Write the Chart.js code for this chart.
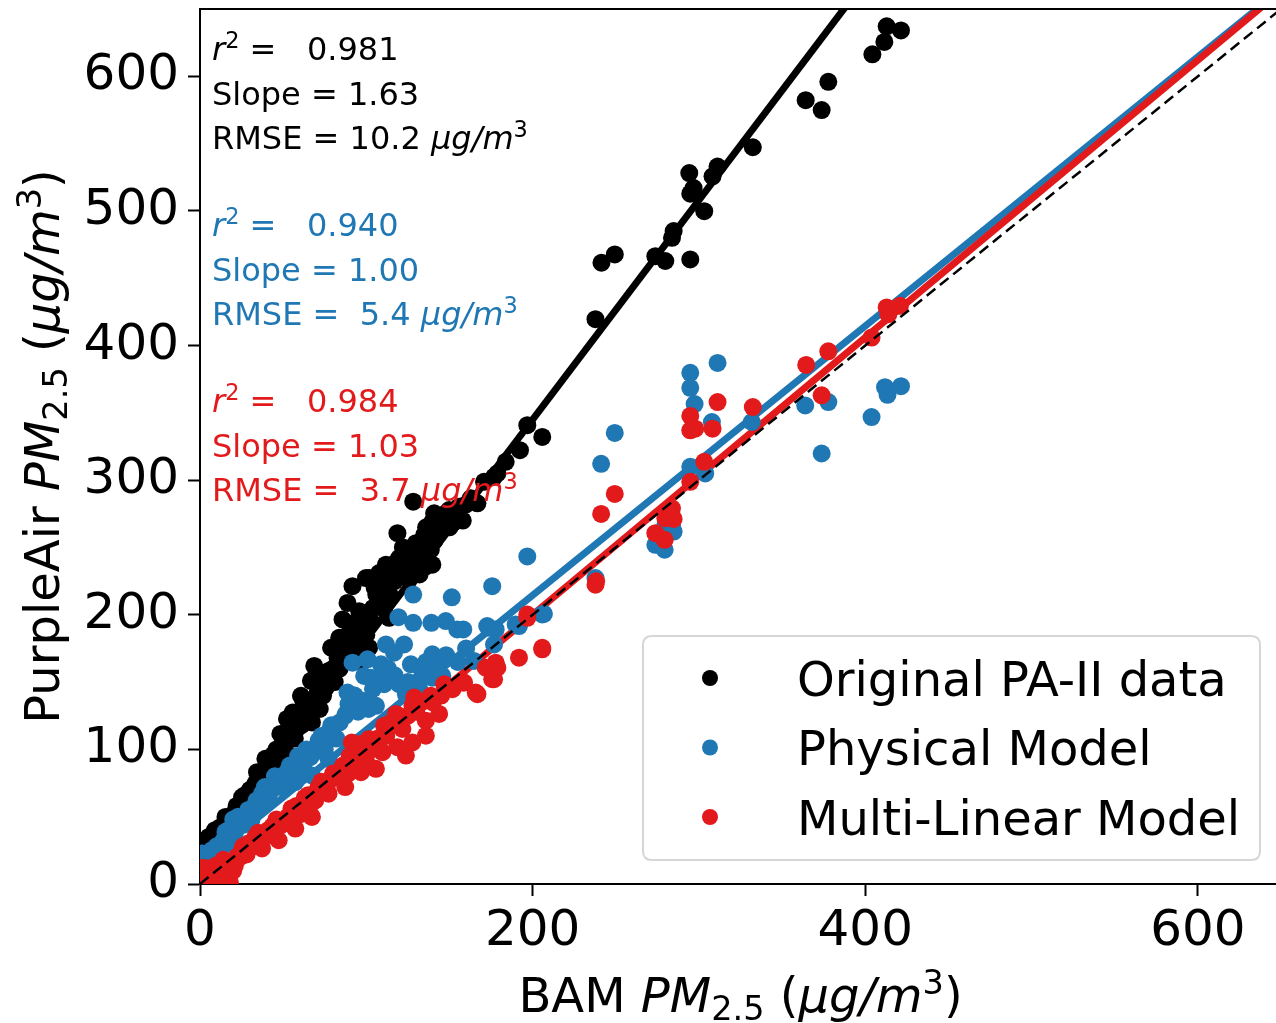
<!DOCTYPE html>
<html><head><meta charset="utf-8">
<script src="https://cdn.jsdelivr.net/npm/chart.js@4.4.1/dist/chart.umd.min.js"></script>
<style>html,body{margin:0;padding:0;overflow:hidden;background:#fff;width:1276px;height:1023px}canvas{display:block}</style>
</head><body><canvas id="c" width="1290" height="1023"></canvas>
<script>
// ---------- data ----------
const seriesNames = ['Original PA-II data', 'Physical Model', 'Multi-Linear Model'];
const xTickValues = [0, 200, 400, 600];
const yTickValues = [0, 100, 200, 300, 400, 500, 600];
const axisMin = 0, axisMax = 650;

const origX = [3.3,5.3,2,8,10,15.3,12,20,25.3,22,28,33.3,34.3,39.3,45.3,48.3,52.3,56.3,62.3,67.3,55.7,60.7,65.7,66.7,68.7,73.7,75.7,78.8,82.7,83.7,85.7,88.7,90.8,91.7,95.7,95.7,101.7,101.7,99.8,107.7,110.7,111.8,113.7,115.7,118.7,119.7,125.7,126.8,129.8,134.8,135.8,138.8,139.7,139.8,143.7,128.2,140.8,147.8,149.8,155.8,162.8,166.8,170.8,176.8,178.8,183.8,192.4,196.8,205.8,30,42,46,50,58,63,70,72,78,80,86,92,97,104,106,112,116,122,131,137,150,158,132,
  6,9,14,17,19,24,27,31,36,38,41,44,47,51,53,57,59,61,64,69,71,74,77,81,84,87,89,93,94,98,100,103,105,108,110,114,117,121,124,127,133,136,141,145,152,160,
  237.8,241.4,249.4,273.8,279.8,283.8,284.8,294.8,294.8,296.8,303.2,294.2,308.2,311.2,332.4,364.2,373.8,377.8,404.3,411.5,412.9,421.5];
const origY = [30.1,35,25,28,38,49.8,42,52,64.6,58,60,74.5,83.1,93,86.8,111.5,122.6,94.2,134.8,120,127.4,139.8,134.8,150.9,162,155.8,145.9,175.5,168.1,182.9,196.5,208.8,187.9,221.2,202.7,165.7,227.3,175.5,227.3,231,222.4,237.2,197.7,237.2,260.6,242.1,226.1,238.4,253.2,259.4,236,248.3,237.2,269.2,264.3,284,275.4,275.4,277.8,280.3,286.5,282.8,298.8,302.5,305,313.6,322.3,340.8,332.1,70,90,100,105,115,125,140,130,150,160,170,180,190,205,215,225,230,250,240,255,265,270,230,
  32,40,36,48,44,55,66,62,80,72,85,96,92,100,110,108,120,118,128,132,145,140,158,150,160,175,185,170,195,200,185,195,220,212,205,215,225,232,245,235,245,265,255,272,268,282,
  419.6,461.5,467.7,466.4,462.8,480,485,464,512.8,517,499.8,528.1,525.7,533,547.3,582.3,574.9,595.9,616.3,625.5,637.1,634.1];

const physX = [1.3,3,5,8,10,15.3,18,24.3,20,28,32.3,37.3,41.3,47.3,52.3,57.3,62.3,66.3,67.3,71.3,77.3,77.3,87.3,87.8,89.3,88.7,91.7,97.7,98.7,100.7,101.3,101.7,102.8,105.8,107.7,108.8,110.7,111.8,116.7,119.7,119.3,122.7,123.8,126.8,128.2,128.2,131.8,131.8,133.7,134.8,139.1,139.7,139.7,145.7,147.8,151.4,154.7,158.3,164.8,172.7,173.8,175.7,176.8,177.8,189.8,191.8,196.8,205.8,206.8,
  4,7,12,14,17,21,23,26,29,31,34,36,39,43,45,49,54,56,59,61,64,69,73,75,79,82,84,93,95,104,113,117,125,136,142,148,155,160,
  237.8,241.2,249.4,273.8,279.8,283.8,279.4,284.8,294.8,294.8,294.8,297.4,303.8,307.8,311.2,331.8,363.9,377.8,373.8,403.8,411.9,413.4,421.5];
const physY = [22.7,15,10,18,28,38.7,30,44.9,48,50,57.2,67.1,62.1,76.9,83.1,75.7,89.3,94.2,80.6,106.5,112.6,93,125,126.3,133.7,142.2,164.4,136.1,154.6,166.9,130,133.7,153.3,132.4,150.9,163.2,148.4,178,171.8,148.4,198.2,178,141,163.2,215,194,144.7,150.9,158.3,155.8,194,170.6,153.3,154.6,195.3,213,189.1,189.1,165.7,191.6,190.3,221.2,178,189.1,192.8,191.6,243.3,200.2,200.7,
  18,25,22,32,40,38,50,44,55,48,62,58,72,70,80,72,88,80,95,85,100,98,110,100,118,108,120,140,128,145,160,155,150,165,160,170,165,175,
  227.3,312.1,335.1,252,266.8,266.8,248.3,261.8,309.9,379.7,368.6,356.5,305,343.2,387.1,343.2,355.5,358,319.8,346.9,369.1,363.4,369.8];

const mlrX = [1.3,5.3,3,8,10,12,15,17.3,18,20,14,22,25.3,28,33.3,37.3,43.3,47.3,51.3,57.3,59.3,67.3,69.3,71.3,77.3,81.3,87.3,91.3,96.8,99.3,99.8,97.3,91.3,101.7,105.8,109.7,110.7,117.8,118.7,121.7,123.8,127.7,127.7,128.8,135.8,135.8,138.8,143.8,146.8,151.8,157.8,158.8,165.8,166.8,171.8,175.7,176.8,177.8,178.8,191.8,196.8,196.8,205.8,205.8,30,40,45,55,62,75,85,65,80,90,
  2,4,6,9,11,13,16,19,21,24,26,29,32,35,38,41,44,46,49,53,55,58,61,63,66,70,73,76,79,83,86,89,93,95,103,107,112,115,120,125,130,133,140,145,
  237.8,238.2,241.2,249.4,273.8,279.4,279.8,284.8,283.8,294.8,294.8,294.8,297.8,303.2,308.2,311.2,332.4,364.5,377.8,373.8,403.8,412.9,420.9,413.9];
const mlrY = [7.9,11.6,3,5,14,2,8,5.4,1,10,18,20,25.1,22,35,26.4,42.4,32.5,47.3,41.2,54.7,49.8,62.1,72,67.1,79.4,72,89.3,83.1,86.8,91.7,104.1,105.2,107.8,85.6,97.9,117.6,126.3,101.6,115.2,95.4,105.2,132.4,138.5,110.2,121.3,139.8,126.3,148.4,144.7,149.6,149.6,142.2,141,160.7,152.1,152.1,164.4,160.7,168.1,200.2,197.7,174.3,175.5,28,38,45,52,60,75,85,66,82,95,
  12,8,4,10,6,12,14,16,14,20,28,30,28,38,35,40,36,48,44,50,56,58,52,64,58,68,76,72,78,80,88,82,92,98,100,108,110,120,118,125,128,135,135,140,
  222.3,224.9,274.9,289.8,260.6,255.7,271.7,271.2,279.1,298.8,347.7,337,338.2,313.6,338.2,358,354.3,385.6,395.7,363,405.9,428.3,429.5,423.3];

// regression-line end points and 1:1 line
const fitOrigX = [0, 400], fitOrigY = [19, 671];
const fitPhysX = [0, 650], fitPhysY = [14.5, 664.5];
const fitMlrX  = [0, 650], fitMlrY  = [-6, 663.5];
const oneX = [0, 650], oneY = [0, 650];

// statistics text
const statR2 = ['0.981', '0.940', '0.984'];
const statSlope = ['1.63', '1.00', '1.03'];
const statRmse = ['10.2', ' 5.4', ' 3.7'];

// ---------- styling ----------
const BLACK = '#000000', BLUE = '#1f77b4', RED = '#e31a1c';
const colors = [BLACK, BLUE, RED];
const FONT = '"DejaVu Sans"';
const pts = (xs, ys) => xs.map((x, i) => ({x, y: ys[i]}));

function fontFor(s, size) {
  const small = (s.k === 'sup' || s.k === 'sub');
  const sz = small ? size * 0.7 : size;
  return (s.k === 'i' ? 'italic ' : '') + sz + 'px ' + FONT;
}
function richWidth(ctx, segs, size) {
  let w = 0;
  for (const s of segs) { ctx.font = fontFor(s, size); w += ctx.measureText(s.t).width; }
  return w;
}
function drawRich(ctx, segs, x, y, size, color, align) {
  ctx.fillStyle = color;
  ctx.textBaseline = 'alphabetic';
  ctx.textAlign = 'left';
  let cx = align === 'center' ? x - richWidth(ctx, segs, size) / 2 : x;
  for (const s of segs) {
    ctx.font = fontFor(s, size);
    const dy = s.k === 'sup' ? -0.38 * size : s.k === 'sub' ? 0.17 * size : 0;
    ctx.fillText(s.t, cx, y + dy);
    cx += ctx.measureText(s.t).width;
  }
}

const deco = {
  id: 'deco',
  afterDatasetsDraw(chart) {
    const ctx = chart.ctx;
    ctx.save();
    // statistics annotations
    const baseY = [60, 236, 412];
    for (let k = 0; k < 3; k++) {
      const c = colors[k], y0 = baseY[k];
      drawRich(ctx, [{t:'r',k:'i'},{t:'2',k:'sup'},{t:' =   ' + statR2[k],k:'n'}], 212, y0, 32, c);
      drawRich(ctx, [{t:'Slope = ' + statSlope[k],k:'n'}], 212, y0 + 44.5, 32, c);
      drawRich(ctx, [{t:'RMSE = ' + statRmse[k] + ' ',k:'n'},{t:'μg/m',k:'i'},{t:'3',k:'sup'}], 212, y0 + 89, 32, c);
    }
    // legend
    const lx = 643, ly = 636, lw = 617, lh = 224, r = 9;
    ctx.beginPath();
    ctx.moveTo(lx + r, ly); ctx.lineTo(lx + lw - r, ly); ctx.quadraticCurveTo(lx + lw, ly, lx + lw, ly + r);
    ctx.lineTo(lx + lw, ly + lh - r); ctx.quadraticCurveTo(lx + lw, ly + lh, lx + lw - r, ly + lh);
    ctx.lineTo(lx + r, ly + lh); ctx.quadraticCurveTo(lx, ly + lh, lx, ly + lh - r);
    ctx.lineTo(lx, ly + r); ctx.quadraticCurveTo(lx, ly, lx + r, ly); ctx.closePath();
    ctx.fillStyle = 'rgba(255,255,255,0.8)'; ctx.fill();
    ctx.strokeStyle = '#d6d6d6'; ctx.lineWidth = 2; ctx.stroke();
    const rows = [678, 747.5, 817];
    for (let k = 0; k < 3; k++) {
      ctx.beginPath(); ctx.arc(710, rows[k], 8, 0, Math.PI * 2);
      ctx.fillStyle = colors[k]; ctx.fill();
      ctx.fillStyle = '#000'; ctx.font = '48px ' + FONT;
      ctx.textBaseline = 'alphabetic'; ctx.textAlign = 'left';
      ctx.fillText(seriesNames[k], 797, rows[k] + 17.5);
    }
    ctx.restore();
  },
  afterDraw(chart) {
    const ctx = chart.ctx, ca = chart.chartArea;
    ctx.save();
    ctx.strokeStyle = '#000'; ctx.lineWidth = 2;
    ctx.beginPath(); ctx.moveTo(ca.left - 1, ca.top); ctx.lineTo(ca.right, ca.top); ctx.stroke();
    ctx.beginPath(); ctx.moveTo(ca.right, ca.top); ctx.lineTo(ca.right, ca.bottom); ctx.stroke();
    const cx = (ca.left + ca.right) / 2, cy = (ca.top + ca.bottom) / 2;
    drawRich(ctx, [{t:'BAM ',k:'n'},{t:'PM',k:'i'},{t:'2.5',k:'sub'},{t:' (',k:'n'},{t:'μg/m',k:'i'},{t:'3',k:'sup'},{t:')',k:'n'}], cx, 1012, 48, '#000', 'center');
    ctx.translate(59, cy); ctx.rotate(-Math.PI / 2);
    drawRich(ctx, [{t:'PurpleAir ',k:'n'},{t:'PM',k:'i'},{t:'2.5',k:'sub'},{t:' (',k:'n'},{t:'μg/m',k:'i'},{t:'3',k:'sup'},{t:')',k:'n'}], 0, 0, 48, '#000', 'center');
    ctx.restore();
  }
};

const scatterDs = (label, xs, ys, color, order) => ({
  type: 'scatter', label, data: pts(xs, ys), backgroundColor: color, borderWidth: 0,
  pointRadius: 9, pointHoverRadius: 9, order, clip: 0
});
const lineDs = (label, xs, ys, color, width, dash, order) => ({
  type: 'line', label, data: pts(xs, ys), borderColor: color, borderWidth: width, borderDash: dash,
  pointRadius: 0, fill: false, showLine: true, order, clip: 0, borderCapStyle: 'butt', tension: 0
});

new Chart(document.getElementById('c'), {
  type: 'scatter',
  data: {
    datasets: [
      lineDs('fit original', fitOrigX, fitOrigY, BLACK, 7, [], 6),
      lineDs('fit physical', fitPhysX, fitPhysY, BLUE, 7, [], 5),
      lineDs('fit multilinear', fitMlrX, fitMlrY, RED, 7, [], 4),
      scatterDs(seriesNames[0], origX, origY, BLACK, 3),
      scatterDs(seriesNames[1], physX, physY, BLUE, 2),
      scatterDs(seriesNames[2], mlrX, mlrY, RED, 1),
      lineDs('1:1', oneX, oneY, BLACK, 2.5, [11, 6], 0)
    ]
  },
  options: {
    responsive: false, animation: false, devicePixelRatio: 1,
    layout: { padding: { top: 4, right: 7, left: 0, bottom: 0 } },
    plugins: { legend: { display: false }, tooltip: { enabled: false } },
    scales: {
      x: {
        type: 'linear', min: axisMin, max: axisMax,
        afterBuildTicks: s => { s.ticks = xTickValues.map(v => ({value: v})); },
        afterFit: s => { s.height = 139; s.paddingLeft = 0; s.paddingRight = 0; },
        grid: { drawOnChartArea: false, drawTicks: true, tickLength: 12, tickWidth: 2, tickColor: '#000', color: '#000' },
        border: { display: true, color: '#000', width: 2 },
        ticks: { color: '#000', font: { family: 'DejaVu Sans', size: 50 }, padding: 6, maxRotation: 0, autoSkip: false }
      },
      y: {
        type: 'linear', min: axisMin, max: axisMax,
        afterBuildTicks: s => { s.ticks = yTickValues.map(v => ({value: v})); },
        afterFit: s => { s.width = 200; s.paddingTop = 0; s.paddingBottom = 0; },
        grid: { drawOnChartArea: false, drawTicks: true, tickLength: 12, tickWidth: 2, tickColor: '#000', color: '#000' },
        border: { display: true, color: '#000', width: 2 },
        ticks: { color: '#000', font: { family: 'DejaVu Sans', size: 50 }, padding: 9, autoSkip: false }
      }
    }
  },
  plugins: [deco]
});
</script></body></html>
